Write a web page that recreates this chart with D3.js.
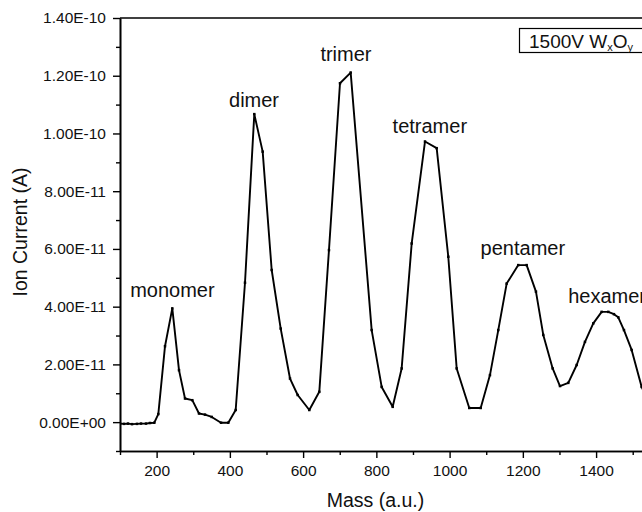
<!DOCTYPE html>
<html>
<head>
<meta charset="utf-8">
<script src="https://cdn.jsdelivr.net/npm/d3@7"></script>
<style>
  html, body { margin: 0; padding: 0; background: #fff; }
  svg { display: block; }
  text { font-family: "Liberation Sans", Arial, sans-serif; fill: #111; }
</style>
</head>
<body>
<svg id="chart" width="642" height="512"></svg>
<script>
// ---- data ----
const mass = [100, 110.9, 121.8, 132.8, 146.4, 157.3, 171.0, 181.9, 193.7, 204.6,
  222.9, 242.8, 261.1, 277.5, 297.4, 315.7, 332.1, 350.4, 375.8, 395.7,
  415.9, 441.3, 466.7, 489.6, 514.2, 538.8, 564.2, 585.2, 616.9, 644.2,
  670.6, 700.7, 729.9, 787.2, 814.5, 844.6, 869.1, 896.5, 932.8, 964.7,
  996.4, 1019.3, 1053.7, 1084.9, 1110.2, 1132.9, 1155.8, 1187.5, 1210.4, 1235.8,
  1255.8, 1281.4, 1301.4, 1324.0, 1347.0, 1369.6, 1392.3, 1415.2, 1433.3, 1448.8,
  1460.6, 1476.1, 1497.1, 1524.4, 1547.0];
const ionCurrent = [-0.05e-11, -0.06e-11, -0.05e-11, -0.07e-11, -0.06e-11, -0.05e-11, -0.05e-11, -0.03e-11, -0.02e-11, 0.28e-11,
  2.63e-11, 3.94e-11, 1.80e-11, 0.82e-11, 0.76e-11, 0.30e-11, 0.26e-11, 0.18e-11, -0.02e-11, -0.02e-11,
  0.42e-11, 4.83e-11, 10.67e-11, 9.37e-11, 5.27e-11, 3.24e-11, 1.51e-11, 0.94e-11, 0.42e-11, 1.05e-11,
  5.96e-11, 11.74e-11, 12.11e-11, 3.19e-11, 1.22e-11, 0.53e-11, 1.86e-11, 6.19e-11, 9.72e-11, 9.49e-11,
  5.73e-11, 1.86e-11, 0.49e-11, 0.49e-11, 1.63e-11, 3.19e-11, 4.80e-11, 5.44e-11, 5.44e-11, 4.52e-11,
  3.02e-11, 1.86e-11, 1.25e-11, 1.36e-11, 1.98e-11, 2.78e-11, 3.42e-11, 3.82e-11, 3.82e-11, 3.74e-11,
  3.63e-11, 3.19e-11, 2.50e-11, 1.22e-11, 0.60e-11];

const peakNames = ["monomer", "dimer", "trimer", "tetramer", "pentamer", "hexamer"];
const peakLabelMass = [243, 466, 717, 946, 1200, 1430];
const peakLabelCurrent = [4.33e-11, 10.92e-11, 12.51e-11, 10.02e-11, 5.79e-11, 4.12e-11];

const xTicks = [200, 400, 600, 800, 1000, 1200, 1400];
const xTickLabels = ["200", "400", "600", "800", "1000", "1200", "1400"];
const xMinorTicks = [100, 300, 500, 700, 900, 1100, 1300, 1500];
const yTicks = [0, 2e-11, 4e-11, 6e-11, 8e-11, 1e-10, 1.2e-10, 1.4e-10];
const yTickLabels = ["0.00E+00", "2.00E-11", "4.00E-11", "6.00E-11", "8.00E-11", "1.00E-10", "1.20E-10", "1.40E-10"];
const yMinorTicks = [-1e-11, 1e-11, 3e-11, 5e-11, 7e-11, 9e-11, 1.1e-10, 1.3e-10];

const xTitle = "Mass (a.u.)";
const yTitle = "Ion Current (A)";

// ---- drawing ----
const svg = d3.select("#chart");
const mLeft = 120, mRight = 643.7, mTop = 18, mBottom = 451;

const x = d3.scaleLinear().domain([100, 1530]).range([mLeft, mRight]);
const y = d3.scaleLinear().domain([-1e-11, 1.4e-10]).range([mBottom, mTop]);

// data line
const pts = mass.map((m, i) => [m, ionCurrent[i]]);
svg.append("clipPath").attr("id", "plotclip")
  .append("rect").attr("x", mLeft).attr("y", mTop).attr("width", 642 - mLeft).attr("height", mBottom - mTop);

const plot = svg.append("g").attr("clip-path", "url(#plotclip)");
plot.append("path")
  .datum(pts)
  .attr("fill", "none")
  .attr("stroke", "#000")
  .attr("stroke-width", 1.9)
  .attr("stroke-linejoin", "round")
  .attr("d", d3.line().x(d => x(d[0])).y(d => y(d[1])));
plot.selectAll("rect.pt")
  .data(pts)
  .join("rect")
  .attr("class", "pt")
  .attr("x", d => x(d[0]) - 1.25)
  .attr("y", d => y(d[1]) - 1.25)
  .attr("width", 2.5).attr("height", 2.5)
  .attr("fill", "#000");

// axes
const tickFont = "15.5px";
const xAxisMajor = d3.axisBottom(x).tickValues(xTicks)
  .tickFormat((d, i) => xTickLabels[i]).tickSize(7).tickPadding(7).tickSizeOuter(0);
const xAxisMinor = d3.axisBottom(x).tickValues(xMinorTicks).tickFormat("").tickSize(4).tickSizeOuter(0);
const yAxisMajor = d3.axisLeft(y).tickValues(yTicks)
  .tickFormat((d, i) => yTickLabels[i]).tickSize(7).tickPadding(7).tickSizeOuter(0);
const yAxisMinor = d3.axisLeft(y).tickValues(yMinorTicks).tickFormat("").tickSize(4).tickSizeOuter(0);

function styleAxis(g) {
  g.select(".domain").attr("stroke", "#000").attr("stroke-width", 1.6);
  g.selectAll(".tick line").attr("stroke", "#000").attr("stroke-width", 1.4);
  g.selectAll(".tick text").attr("fill", "#222").style("font-size", tickFont)
    .style("font-family", '"Liberation Sans", Arial, sans-serif');
}

svg.append("g").attr("transform", `translate(0,${mBottom})`).call(xAxisMinor).call(styleAxis);
svg.append("g").attr("transform", `translate(0,${mBottom})`).call(xAxisMajor).call(styleAxis);
svg.append("g").attr("transform", `translate(${mLeft},0)`).call(yAxisMinor).call(styleAxis);
svg.append("g").attr("transform", `translate(${mLeft},0)`).call(yAxisMajor).call(styleAxis);

// top frame line
svg.append("line").attr("x1", mLeft).attr("x2", 642).attr("y1", mTop).attr("y2", mTop)
  .attr("stroke", "#000").attr("stroke-width", 1.6);

// peak labels
svg.selectAll("text.peak")
  .data(peakNames)
  .join("text")
  .attr("class", "peak")
  .attr("x", (d, i) => x(peakLabelMass[i]))
  .attr("y", (d, i) => y(peakLabelCurrent[i]))
  .attr("text-anchor", "middle")
  .style("font-size", "20px")
  .text(d => d);

// axis titles
svg.append("text")
  .attr("x", (mLeft + 631) / 2).attr("y", 507)
  .attr("text-anchor", "middle")
  .style("font-size", "19.5px")
  .text(xTitle);
svg.append("text")
  .attr("transform", "translate(27,232) rotate(-90)")
  .attr("text-anchor", "middle")
  .style("font-size", "19.5px")
  .text(yTitle);

// legend box
svg.append("rect")
  .attr("x", 519.5).attr("y", 28.5).attr("width", 160).attr("height", 24)
  .attr("fill", "#fff").attr("stroke", "#000").attr("stroke-width", 1.2);
const lt = svg.append("text").attr("x", 529).attr("y", 47.5).style("font-size", "19px");
lt.append("tspan").text("1500V W");
lt.append("tspan").attr("dy", 3).style("font-size", "11px").text("x");
lt.append("tspan").attr("dy", -3).text("O");
lt.append("tspan").attr("dy", 3).style("font-size", "11px").text("y");
</script>
</body>
</html>
